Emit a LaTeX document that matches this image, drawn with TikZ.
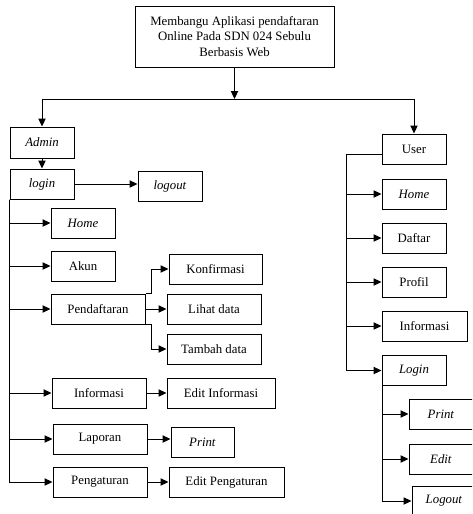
\documentclass[tikz,border=0pt]{standalone}
\usepackage{fontspec}
\setmainfont{Liberation Serif}
\usetikzlibrary{arrows.meta}

\begin{document}
\begin{tikzpicture}[
  x=0.75pt, y=-0.75pt,
  font=\fontsize{9.6}{11.6}\selectfont,
  box/.style={draw, line width=0.75pt, minimum height=22.5pt, inner sep=1pt, align=center},
  wd/.style={minimum width=#1*0.75pt},
  arr/.style={-{Triangle[length=6pt,width=5.5pt]}, line width=0.75pt},
  ln/.style={line width=0.75pt}
]
\path[use as bounding box, clip] (0,0) rectangle (472,514);

% root
\node[box, wd=199, minimum height=45.75pt] (root) at (234.5,36.5) {Membangu Aplikasi pendaftaran\\Online Pada SDN 024 Sebulu\\Berbasis Web};
\coordinate (j) at (234.5,99);

% admin side
\node[box, wd=64, minimum height=23.25pt] (admin) at (42,142.5) {\textit{Admin}};
\node[box, wd=64] (login) at (42,184) {\textit{login}};
\node[box, wd=64] (logout) at (170,186) {\textit{logout}};
\node[box, wd=64] (home) at (83,223) {\textit{Home}};
\node[box, wd=64] (akun) at (83,266) {Akun};
\node[box, wd=94] (pend) at (98,309) {Pendaftaran};
\node[box, wd=93] (konf) at (215.5,269) {Konfirmasi};
\node[box, wd=94] (lihat) at (214,309) {Lihat data};
\node[box, wd=94] (tambah) at (214,349) {Tambah data};
\node[box, wd=94] (info) at (99,393) {Informasi};
\node[box, wd=108] (einfo) at (221,393) {Edit Informasi};
\node[box, wd=94] (lapor) at (100,439) {Laporan};
\node[box, wd=63] (print) at (202.5,442) {\textit{Print}};
\node[box, wd=94] (atur) at (100,482) {Pengaturan};
\node[box, wd=115] (eatur) at (226.5,482) {Edit Pengaturan};

% user side
\node[box, wd=64] (user) at (414,149) {User};
\node[box, wd=64] (uhome) at (414,194) {\textit{Home}};
\node[box, wd=64] (daftar) at (414,238) {Daftar};
\node[box, wd=64] (profil) at (414,282) {Profil};
\node[box, wd=85] (uinfo) at (424.5,326) {Informasi};
\node[box, wd=64] (ulogin) at (414,370.5) {\textit{Login}};
\node[box, wd=64] (uprint) at (441,414) {\textit{Print}};
\node[box, wd=64] (uedit) at (441,459) {\textit{Edit}};
\node[box, wd=64] (ulogout) at (444,501) {\textit{Logout}};

% connectors
\draw[arr] (root) -- (j);
\draw[arr] (j) -| (admin);
\draw[arr] (j) -| (user);
\draw[arr] (admin) -- (login);
\draw[arr] (login) -- (login -| logout.west);
\foreach \n in {home,akun,pend,info,lapor,atur}
  \draw[arr] (login.south west) |- (\n);
\draw[arr] (pend.north east) -- ++(6,0) |- (konf);
\draw[arr] (pend) -- (lihat);
\draw[arr] (pend.south east) -- ++(6,0) |- (tambah);
\draw[arr] (info) -- (einfo);
\draw[arr] (lapor.east) -- (lapor.east -| print.west);
\draw[arr] (atur) -- (eatur);

\foreach \n in {uhome,daftar,profil,uinfo,ulogin}
  \draw[arr] ([yshift=-3.75pt]user.west) -- ++(-35,0) |- (\n);
\foreach \n in {uprint,uedit,ulogout}
  \draw[arr] ([xshift=0.75pt]ulogin.south west) |- (\n);

\end{tikzpicture}
\end{document}
